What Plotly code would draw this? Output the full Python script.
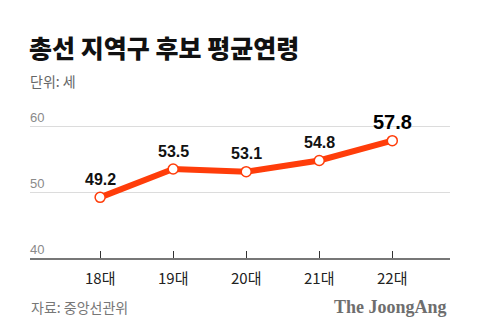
import plotly.graph_objects as go

categories = ["18대", "19대", "20대", "21대", "22대"]
ages = [49.2, 53.5, 53.1, 54.8, 57.8]
label_sizes = [16, 16, 16, 16, 20]
y_ticks = [40, 50, 60]

RED = "#FF3D0A"
KFONT = "Noto Sans CJK KR"
NFONT = "Liberation Sans, Arial, sans-serif"

x_idx = list(range(len(categories)))

fig = go.Figure()
fig.add_trace(go.Scatter(
    x=x_idx, y=ages, mode="lines+markers",
    line=dict(color=RED, width=6),
    marker=dict(size=10, color="white", line=dict(color=RED, width=1.5)),
    hoverinfo="skip", showlegend=False,
))

annotations = []
for i, (v, s) in enumerate(zip(ages, label_sizes)):
    annotations.append(dict(
        x=i, y=v, xref="x", yref="y", text=f"<b>{v}</b>", showarrow=False,
        font=dict(family=NFONT, size=s, color="#111" if s < 20 else "#000"),
        yshift=18 if s < 20 else 19,
    ))
for t in y_ticks:
    annotations.append(dict(
        x=0, xref="paper", y=t, yref="y", text=str(t), showarrow=False,
        xanchor="left", yanchor="bottom", xshift=-2, yshift=-1,
        font=dict(family=NFONT, size=13, color="#8a8a8a"),
    ))
for i, c in enumerate(categories):
    annotations.append(dict(
        x=i, xref="x", y=0, yref="paper", text=c, showarrow=False,
        yanchor="top", yshift=-7,
        font=dict(family=KFONT, size=15, color="#222"),
    ))

fig.update_layout(
    width=480, height=335,
    margin=dict(l=30, r=30, t=113, b=77),
    paper_bgcolor="white", plot_bgcolor="white",
    annotations=annotations,
    xaxis=dict(range=[-0.96, 4.79], showgrid=False, zeroline=False,
               showticklabels=False, ticks="inside", ticklen=7,
               tickcolor="#333", tickwidth=1.2, tickvals=x_idx,
               showline=True, linecolor="#777", linewidth=2),
    yaxis=dict(range=[40, 62], tickvals=y_ticks, showticklabels=False,
               showgrid=True, gridcolor="#dcdcdc", gridwidth=1,
               zeroline=False, showline=False),
)

def px_to_paper_x(px):
    return (px - 30) / (480 - 60)

def px_to_paper_y(py):
    return (335 - 77 - py) / (335 - 113 - 77)

fig.add_annotation(x=px_to_paper_x(27), y=px_to_paper_y(47), xref="paper", yref="paper",
                   text="총선 지역구 후보 평균연령", showarrow=False,
                   xanchor="left", yanchor="middle",
                   font=dict(family=KFONT, size=25, color="#111", weight=900))
fig.add_annotation(x=px_to_paper_x(28), y=px_to_paper_y(81), xref="paper", yref="paper",
                   text="단위: 세", showarrow=False, xanchor="left", yanchor="middle",
                   font=dict(family=KFONT, size=14, color="#666"))
fig.add_annotation(x=px_to_paper_x(29), y=px_to_paper_y(307), xref="paper", yref="paper",
                   text="자료: 중앙선관위", showarrow=False, xanchor="left", yanchor="middle",
                   font=dict(family=KFONT, size=14, color="#777"))
fig.add_annotation(x=px_to_paper_x(449), y=px_to_paper_y(307), xref="paper", yref="paper",
                   text="<b>The JoongAng</b>", showarrow=False, xanchor="right", yanchor="middle",
                   font=dict(family="Liberation Serif, serif", size=18, color="#6e6e6e"))

fig.write_html("out.html")
